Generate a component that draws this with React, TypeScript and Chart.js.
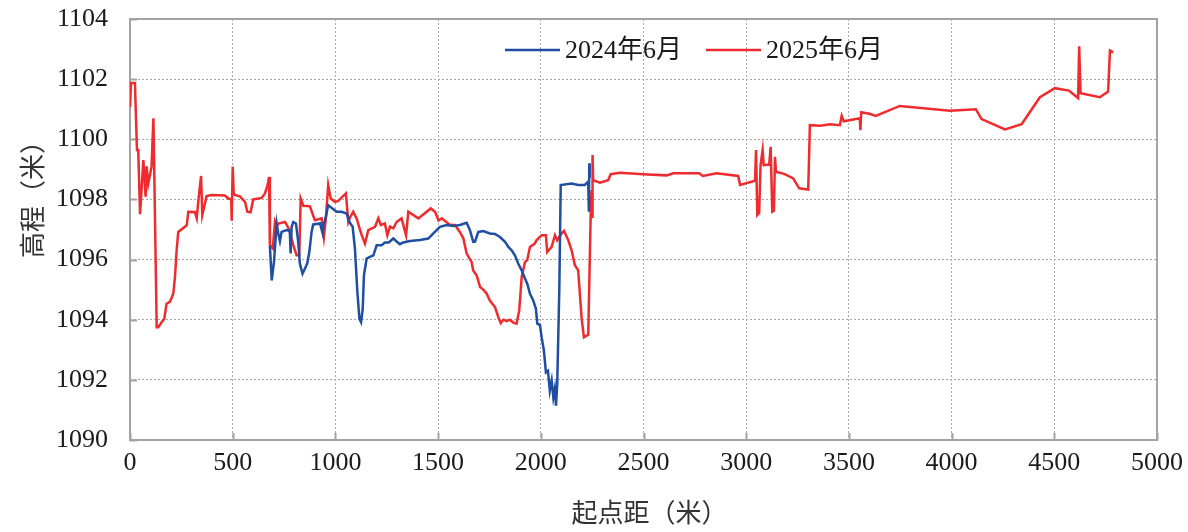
import React, { useEffect, useRef } from "react";
import { Chart, registerables } from "chart.js";

Chart.register(...registerables);

const seriesNames = ["2024年6月", "2025年6月"];
const seriesColors = ["#1f4ea3", "#ee2b2e"];

const xTickStep = 500;
const xMin = 0;
const xMax = 5000;
const yMin = 1090;
const yMax = 1104;
const yTickStep = 2;

const xTitle = "起点距（米）";
const yTitle = "高程（米）";

// 2024年6月 (blue)
const dist2024 = [
  681, 690, 701, 714, 722, 730, 738, 763, 778, 782, 787, 795, 808, 819, 827, 840, 852, 863, 873, 884,
  892, 925, 938, 941, 950, 965, 1006, 1030, 1055, 1068, 1084, 1095, 1107, 1117, 1125, 1133, 1139, 1152,
  1168, 1185, 1201, 1225, 1241, 1260, 1282, 1298, 1314, 1331, 1363, 1412, 1452, 1477, 1509, 1542, 1574,
  1606, 1639, 1655, 1671, 1680, 1696, 1720, 1752, 1777, 1801, 1826, 1842, 1858, 1874, 1890, 1907, 1923,
  1934, 1947, 1963, 1976, 1983, 1996, 2004, 2015, 2025, 2035, 2044, 2053, 2061, 2068, 2074, 2080, 2090,
  2097, 2150, 2182, 2214, 2231, 2234, 2236, 2238,
];
const elev2024 = [
  1096.45, 1095.31, 1095.92, 1097.2, 1096.87, 1096.61, 1096.92, 1096.98, 1096.95, 1096.2, 1097.09,
  1097.25, 1097.2, 1096.59, 1095.87, 1095.53, 1095.7, 1095.87, 1096.25, 1096.92, 1097.17, 1097.2,
  1096.87, 1097.17, 1097.3, 1097.81, 1097.59, 1097.59, 1097.53, 1097.25, 1097.09, 1096.37, 1094.92,
  1094.03, 1093.92, 1094.37, 1095.48, 1096.03, 1096.09, 1096.14, 1096.48, 1096.48, 1096.57, 1096.57,
  1096.7, 1096.6, 1096.51, 1096.57, 1096.62, 1096.65, 1096.7, 1096.87, 1097.09, 1097.15, 1097.12,
  1097.15, 1097.22, 1096.98, 1096.59, 1096.6, 1096.92, 1096.95, 1096.87, 1096.85, 1096.75, 1096.59,
  1096.42, 1096.31, 1096.14, 1095.87, 1095.64, 1095.37, 1095.2, 1094.87, 1094.64, 1094.37, 1093.87,
  1093.82, 1093.42, 1092.98, 1092.25, 1092.3, 1091.64, 1091.98, 1091.42, 1091.7, 1091.14, 1091.87,
  1094.98, 1098.48, 1098.53, 1098.48, 1098.48, 1098.59, 1097.59, 1099.2, 1098.7,
];

// 2025年6月 (red)
const dist2025 = [
  0, 5, 24, 34, 40, 49, 65, 76, 81, 89, 105, 114, 118, 130, 138, 154, 167, 178, 195, 211, 219, 227, 235,
  276, 284, 316, 325, 333, 346, 352, 373, 397, 462, 479, 493, 495, 500, 505, 510, 535, 560, 571, 587,
  600, 641, 657, 670, 677, 681, 695, 706, 714, 722, 755, 775, 795, 811, 824, 831, 844, 876, 900, 933,
  944, 954, 965, 977, 998, 1014, 1051, 1063, 1071, 1087, 1103, 1128, 1144, 1160, 1193, 1209, 1221,
  1241, 1253, 1266, 1282, 1298, 1322, 1344, 1355, 1404, 1464, 1485, 1502, 1518, 1558, 1582, 1606,
  1623, 1639, 1663, 1671, 1688, 1704, 1720, 1736, 1752, 1777, 1793, 1805, 1818, 1834, 1850, 1866,
  1882, 1895, 1907, 1923, 1934, 1947, 1971, 1979, 2004, 2025, 2031, 2053, 2069, 2080, 2101, 2113,
  2134, 2150, 2166, 2182, 2199, 2210, 2231, 2243, 2247, 2250, 2252, 2255, 2288, 2328, 2340, 2385,
  2499, 2612, 2645, 2771, 2789, 2856, 2961, 2970, 3043, 3048, 3054, 3063, 3070, 3080, 3085, 3112,
  3119, 3127, 3135, 3140, 3145, 3188, 3229, 3258, 3302, 3310, 3360, 3407, 3456, 3465, 3475, 3553,
  3556, 3560, 3600, 3631, 3748, 3992, 4118, 4146, 4260, 4341, 4430, 4503, 4571, 4616, 4621, 4628,
  4722, 4762, 4771, 4787,
];
const elev2025 = [
  1101.07, 1101.87, 1101.87, 1099.64, 1099.64, 1097.51, 1099.31, 1098.09, 1099.1, 1098.53, 1099.09,
  1100.7, 1098.98, 1093.75, 1093.75, 1093.92, 1094.03, 1094.53, 1094.6, 1094.87, 1095.42, 1096.31,
  1096.92, 1097.14, 1097.59, 1097.58, 1097.37, 1097.98, 1098.78, 1097.48, 1098.11, 1098.15, 1098.13,
  1098.03, 1098.0, 1097.29, 1099.09, 1098.2, 1098.15, 1098.1, 1097.92, 1097.59, 1097.57, 1098.0,
  1098.05, 1098.2, 1098.48, 1098.75, 1096.48, 1096.37, 1097.25, 1097.09, 1097.2, 1097.25, 1097.0,
  1096.48, 1096.14, 1096.14, 1098.03, 1097.79, 1097.77, 1097.31, 1097.37, 1096.75, 1097.4, 1098.48,
  1098.03, 1097.92, 1097.95, 1098.2, 1097.25, 1097.4, 1097.59, 1097.37, 1096.81, 1096.53, 1096.98,
  1097.09, 1097.37, 1097.15, 1097.2, 1096.81, 1097.1, 1097.04, 1097.25, 1097.37, 1096.81, 1097.59,
  1097.37, 1097.7, 1097.59, 1097.3, 1097.37, 1097.15, 1097.15, 1096.92, 1096.7, 1096.2, 1095.92,
  1095.64, 1095.47, 1095.09, 1095.0, 1094.87, 1094.64, 1094.42, 1094.09, 1093.89, 1094.0, 1093.95,
  1094.0, 1093.9, 1093.87, 1094.31, 1095.42, 1095.92, 1095.98, 1096.42, 1096.53, 1096.64, 1096.81,
  1096.81, 1096.25, 1096.42, 1096.81, 1096.64, 1096.87, 1096.95, 1096.64, 1096.31, 1095.81, 1095.64,
  1094.03, 1093.42, 1093.5, 1097.53, 1098.31, 1097.42, 1099.48, 1098.64, 1098.56, 1098.64, 1098.84,
  1098.89, 1098.84, 1098.8, 1098.87, 1098.87, 1098.78, 1098.87, 1098.78, 1098.48, 1098.62, 1099.64,
  1097.48, 1097.55, 1099.14, 1099.64, 1099.14, 1099.16, 1099.75, 1097.59, 1097.62, 1099.42, 1098.92,
  1098.84, 1098.7, 1098.37, 1098.33, 1100.47, 1100.45, 1100.5, 1100.47, 1100.78, 1100.6, 1100.7,
  1100.3, 1100.9, 1100.85, 1100.78, 1101.11, 1100.95, 1101.0, 1100.67, 1100.33, 1100.5, 1101.4,
  1101.7, 1101.62, 1101.37, 1103.09, 1101.53, 1101.4, 1101.59, 1102.95, 1102.89,
];

const serif = "'Liberation Serif', 'Times New Roman', 'Noto Sans CJK SC', serif";
const cjk = "'Noto Sans CJK SC', sans-serif";

const framePlugin = {
  id: "framePlugin",
  beforeDatasetsDraw(chart: any) {
    const { ctx, chartArea: a, scales } = chart;
    ctx.save();
    ctx.strokeStyle = "#a3a3a3";
    ctx.lineWidth = 2;
    ctx.strokeRect(a.left, a.top, a.right - a.left, a.bottom - a.top);
    // inward ticks
    const tl = 7;
    ctx.beginPath();
    for (let v = xMin; v <= xMax; v += xTickStep) {
      const px = Math.round(scales.x.getPixelForValue(v)) + 0.5;
      ctx.moveTo(px, a.bottom);
      ctx.lineTo(px, a.bottom - tl);
    }
    for (let v = yMin; v <= yMax; v += yTickStep) {
      const py = Math.round(scales.y.getPixelForValue(v)) + 0.5;
      ctx.moveTo(a.left, py);
      ctx.lineTo(a.left + tl, py);
    }
    ctx.stroke();
    ctx.restore();
  },
  afterDraw(chart: any) {
    const { ctx, chartArea: a } = chart;
    ctx.save();
    // legend
    const ly = a.top + 31;
    const starts = [a.left + 375, a.left + 576];
    chart.data.datasets.forEach((ds: any, i: number) => {
      const x0 = starts[i];
      ctx.strokeStyle = ds.borderColor;
      ctx.lineWidth = 2.5;
      ctx.beginPath();
      ctx.moveTo(x0, ly);
      ctx.lineTo(x0 + 55, ly);
      ctx.stroke();
      ctx.fillStyle = "#1a1a1a";
      ctx.font = `26px ${serif}`;
      ctx.textAlign = "left";
      ctx.textBaseline = "middle";
      ctx.fillText(ds.label, x0 + 60, ly + 1);
    });
    // axis titles
    ctx.fillStyle = "#333333";
    ctx.font = `26px ${cjk}`;
    ctx.textAlign = "center";
    ctx.textBaseline = "middle";
    ctx.fillText(xTitle, (a.left + a.right) / 2 + 6, 512);
    ctx.translate(32, 193);
    ctx.rotate(-Math.PI / 2);
    ctx.fillText(yTitle, 0, 0);
    ctx.restore();
  },
};

export default function App() {
  const ref = useRef<HTMLCanvasElement | null>(null);
  useEffect(() => {
    document.body.style.margin = "0";
    const canvas = ref.current;
    if (!canvas) return;
    const toPoints = (xs: number[], ys: number[]) => xs.map((x, i) => ({ x, y: ys[i] }));
    const chart = new Chart(canvas, {
      type: "line",
      data: {
        datasets: [
          {
            label: seriesNames[0],
            data: toPoints(dist2024, elev2024),
            borderColor: seriesColors[0],
            backgroundColor: seriesColors[0],
            borderWidth: 2.5,
            pointRadius: 0,
            tension: 0,
          },
          {
            label: seriesNames[1],
            data: toPoints(dist2025, elev2025),
            borderColor: seriesColors[1],
            backgroundColor: seriesColors[1],
            borderWidth: 2.5,
            pointRadius: 0,
            tension: 0,
          },
        ],
      },
      options: {
        responsive: false,
        animation: false,
        events: [],
        layout: { padding: { left: 0, right: 31, top: 19, bottom: 0 } },
        plugins: { legend: { display: false }, tooltip: { enabled: false } },
        scales: {
          x: {
            type: "linear",
            min: xMin,
            max: xMax,
            ticks: {
              stepSize: xTickStep,
              padding: 8,
              color: "#1a1a1a",
              font: { family: serif, size: 26 },
              maxRotation: 0,
              callback: (v: any) => String(v),
            },
            grid: { color: "#a8a8a8", lineWidth: 1, drawTicks: false },
            border: { display: false, dash: [2, 2] },
            afterFit(scale: any) {
              scale.height = 92;
              scale.paddingLeft = 0;
              scale.paddingRight = 0;
            },
          },
          y: {
            type: "linear",
            min: yMin,
            max: yMax,
            ticks: {
              stepSize: yTickStep,
              padding: 22,
              color: "#1a1a1a",
              font: { family: serif, size: 26 },
              callback: (v: any) => String(v),
            },
            grid: { color: "#a8a8a8", lineWidth: 1, drawTicks: false },
            border: { display: false, dash: [2, 2] },
            afterFit(scale: any) {
              scale.width = 130;
              scale.paddingTop = 0;
              scale.paddingBottom = 0;
            },
          },
        },
      },
      plugins: [framePlugin],
    } as any);
    return () => chart.destroy();
  }, []);
  return (
    <div style={{ width: 1188, height: 532, background: "#fff" }}>
      <canvas ref={ref} width={1188} height={532} style={{ display: "block" }} />
    </div>
  );
}
